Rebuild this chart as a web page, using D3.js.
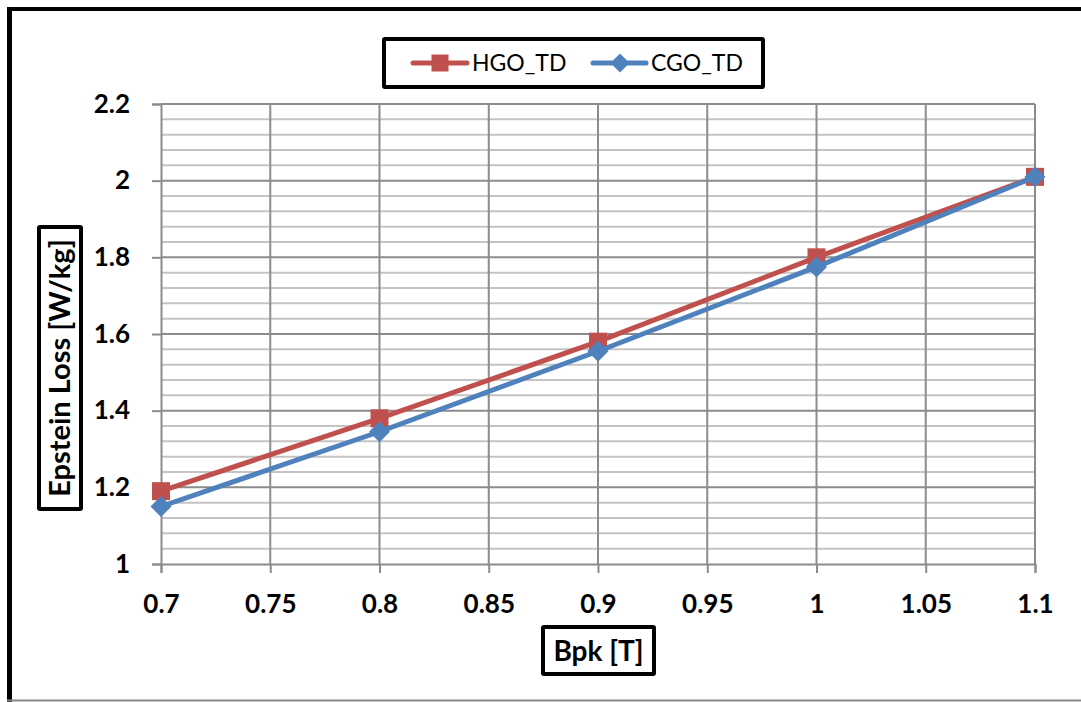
<!DOCTYPE html>
<html>
<head>
<meta charset="utf-8">
<script src="https://cdn.jsdelivr.net/npm/d3@7/dist/d3.min.js"></script>
<style>
  html, body { margin: 0; padding: 0; background: #fff; }
  svg { display: block; }
</style>
</head>
<body>
<svg id="chart" width="1081" height="702"></svg>
<script>
// Peak flux density [T]
const bpk = [0.7, 0.8, 0.9, 1.0, 1.1];
// Epstein loss [W/kg] per grade
const hgoTD = [1.19, 1.38, 1.58, 1.80, 2.01];
const cgoTD = [1.15, 1.345, 1.555, 1.775, 2.01];
const seriesNames = ["HGO_TD", "CGO_TD"];
const xTicks = [0.7, 0.75, 0.8, 0.85, 0.9, 0.95, 1.0, 1.05, 1.1];
const yTicks = [1, 1.2, 1.4, 1.6, 1.8, 2, 2.2];
const yMinorTicks = d3.range(0, 31).map(i => 1 + i * 0.04);

const FONT = "Lato, 'Open Sans', sans-serif";
const RED = "#C0504D", BLUE = "#4F81BD";

const svg = d3.select("#chart");

// outer frame
svg.append("line").attr("x1", 7).attr("x2", 1081).attr("y1", 9).attr("y2", 9)
  .attr("stroke", "#000").attr("stroke-width", 4);
svg.append("line").attr("x1", 9.5).attr("x2", 9.5).attr("y1", 7).attr("y2", 702)
  .attr("stroke", "#000").attr("stroke-width", 5);
svg.append("line").attr("x1", 7).attr("x2", 1081).attr("y1", 700.5).attr("y2", 700.5)
  .attr("stroke", "#888").attr("stroke-width", 2);

const x = d3.scaleLinear().domain([0.7, 1.1]).range([161, 1035]);
const y = d3.scaleLinear().domain([1, 2.2]).range([564, 104]);

// minor horizontal grid
svg.append("g").selectAll("line").data(yMinorTicks.filter(v => Math.abs((v - 1) / 0.2 - Math.round((v - 1) / 0.2)) > 1e-6))
  .join("line")
  .attr("x1", x(0.7)).attr("x2", x(1.1))
  .attr("y1", d => y(d)).attr("y2", d => y(d))
  .attr("stroke", "#c4c4c4").attr("stroke-width", 2);

// major horizontal grid
svg.append("g").selectAll("line").data(yTicks.slice(1))
  .join("line")
  .attr("x1", x(0.7)).attr("x2", x(1.1))
  .attr("y1", d => y(d)).attr("y2", d => y(d))
  .attr("stroke", "#8c8c8c").attr("stroke-width", 2);

// vertical grid
svg.append("g").selectAll("line").data(xTicks.slice(1))
  .join("line")
  .attr("x1", d => x(d)).attr("x2", d => x(d))
  .attr("y1", y(2.2)).attr("y2", y(1))
  .attr("stroke", "#8c8c8c").attr("stroke-width", 2);

// axes
const yAxis = d3.axisLeft(y).tickValues(yTicks).tickSize(9).tickPadding(22)
  .tickFormat(d => d3.format("")(+d.toFixed(1)));
const gy = svg.append("g").attr("transform", `translate(${x(0.7)},0)`).call(yAxis);
gy.select(".domain").attr("stroke", "#8c8c8c").attr("stroke-width", 2);
gy.selectAll(".tick line").attr("stroke", "#8c8c8c").attr("stroke-width", 2);
gy.selectAll(".tick text").attr("fill", "#000").attr("font-family", FONT)
  .attr("font-weight", "bold").attr("font-size", 26);

const xAxis = d3.axisBottom(x).tickValues(xTicks).tickSize(9).tickPadding(22)
  .tickFormat(d => d3.format("")(+d.toFixed(2)));
const gx = svg.append("g").attr("transform", `translate(0,${y(1)})`).call(xAxis);
gx.select(".domain").attr("stroke", "#8c8c8c").attr("stroke-width", 2);
gx.selectAll(".tick line").attr("stroke", "#8c8c8c").attr("stroke-width", 2);
gx.selectAll(".tick text").attr("fill", "#000").attr("font-family", FONT)
  .attr("font-weight", "bold").attr("font-size", 26);

// series lines
const line = d3.line().x(d => x(d[0])).y(d => y(d[1]));
const hgoPts = bpk.map((b, i) => [b, hgoTD[i]]);
const cgoPts = bpk.map((b, i) => [b, cgoTD[i]]);

svg.append("path").datum(hgoPts).attr("d", line)
  .attr("fill", "none").attr("stroke", RED).attr("stroke-width", 5);
svg.append("g").selectAll("rect").data(hgoPts).join("rect")
  .attr("x", d => x(d[0]) - 9).attr("y", d => y(d[1]) - 9)
  .attr("width", 18).attr("height", 18).attr("fill", RED);

svg.append("path").datum(cgoPts).attr("d", line)
  .attr("fill", "none").attr("stroke", BLUE).attr("stroke-width", 5);
const diamond = "M0,-10.5L10.5,0L0,10.5L-10.5,0Z";
svg.append("g").selectAll("path").data(cgoPts).join("path")
  .attr("d", diamond)
  .attr("transform", d => `translate(${x(d[0])},${y(d[1])})`)
  .attr("fill", BLUE);

// legend
const lg = svg.append("g");
lg.append("rect").attr("x", 384).attr("y", 39).attr("width", 379).attr("height", 48)
  .attr("fill", "#fff").attr("stroke", "#000").attr("stroke-width", 4).attr("rx", 1);
lg.append("line").attr("x1", 413).attr("x2", 467).attr("y1", 63).attr("y2", 63)
  .attr("stroke", RED).attr("stroke-width", 5).attr("stroke-linecap", "round");
lg.append("rect").attr("x", 431.5).attr("y", 54.5).attr("width", 17).attr("height", 17).attr("fill", RED);
lg.append("text").attr("x", 472).attr("y", 71).text(seriesNames[0])
  .attr("font-family", FONT).attr("font-size", 23).attr("fill", "#000");
lg.append("line").attr("x1", 593).attr("x2", 646).attr("y1", 63).attr("y2", 63)
  .attr("stroke", BLUE).attr("stroke-width", 5).attr("stroke-linecap", "round");
lg.append("path").attr("d", "M0,-9.5L9.5,0L0,9.5L-9.5,0Z")
  .attr("transform", "translate(620,63)").attr("fill", BLUE);
lg.append("text").attr("x", 651).attr("y", 71).text(seriesNames[1])
  .attr("font-family", FONT).attr("font-size", 23).attr("fill", "#000");

// axis titles
const xt = svg.append("g");
xt.append("rect").attr("x", 543).attr("y", 627).attr("width", 111).attr("height", 47)
  .attr("fill", "#fff").attr("stroke", "#000").attr("stroke-width", 4).attr("rx", 1);
xt.append("text").attr("x", 598.5).attr("y", 661).attr("text-anchor", "middle")
  .text("Bpk [T]").attr("font-family", FONT).attr("font-weight", "bold")
  .attr("font-size", 28).attr("fill", "#000");

const yt = svg.append("g");
yt.append("rect").attr("x", 39).attr("y", 227).attr("width", 42).attr("height", 282)
  .attr("fill", "#fff").attr("stroke", "#000").attr("stroke-width", 4).attr("rx", 1);
yt.append("text").attr("transform", "translate(70,368) rotate(-90)")
  .attr("text-anchor", "middle").text("Epstein Loss [W/kg]")
  .attr("font-family", FONT).attr("font-weight", "bold")
  .attr("font-size", 29).attr("fill", "#000");
</script>
</body>
</html>
